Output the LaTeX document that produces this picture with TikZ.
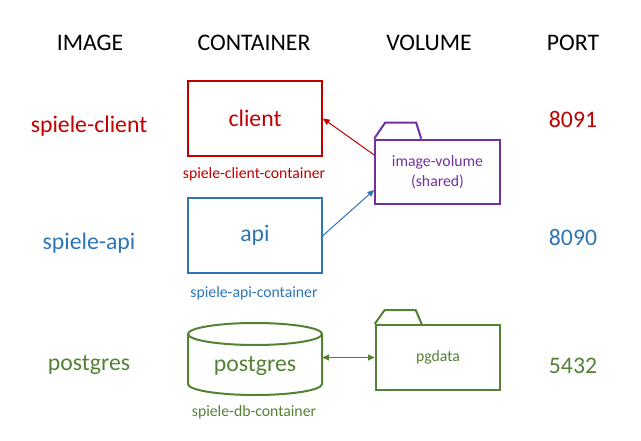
\documentclass[tikz,border=0pt]{standalone}
\usepackage{fontspec}
\setmainfont{Carlito}
\usetikzlibrary{arrows.meta}

\definecolor{clientred}{RGB}{192,0,0}
\definecolor{apiblue}{RGB}{46,117,182}
\definecolor{dbgreen}{RGB}{84,130,53}
\definecolor{volpurple}{RGB}{112,48,160}

\newcommand{\bigtxt}{\fontsize{17.8}{21}\selectfont}
\newcommand{\smalltxt}{\fontsize{11.8}{15}\selectfont}

\begin{document}
\begin{tikzpicture}[x=0.75pt,y=0.75pt,yscale=-1,xscale=1,
  big/.style={font=\bigtxt, inner sep=0.75pt},
  small/.style={font=\smalltxt, inner sep=0.75pt, align=center},
  cbox/.style={draw, line width=1.5pt, minimum width=100.5pt, minimum height=56.25pt, font=\bigtxt},
  folder/.style={draw, line width=1.5pt, minimum width=93.5pt, minimum height=48.5pt, font=\smalltxt, align=center},
  thin arrow/.style={line width=0.75pt, -{Triangle[length=5pt,width=4.5pt]}}]
\path[use as bounding box] (0,0) rectangle (641,441);

% Headers
\node[big] (hImage) at (90,43) {IMAGE};
\node[big] (hContainer) at (254,43) {CONTAINER};
\node[big] (hVolume) at (429,43) {VOLUME};
\node[big] (hPort) at (573,43) {PORT};

% Images
\node[big, clientred] (imgClient) at (89,126) {spiele-client};
\node[big, apiblue] (imgApi) at (89,243) {spiele-api};
\node[big, dbgreen] (imgDb) at (89,365) {postgres};

% Containers
\node[cbox, clientred] (client) at (255,118.5) {client};
\node[small, clientred] (clientLbl) at (254,174) {spiele-client-container};
\node[cbox, apiblue] (api) at (255,235.5) {api};
\node[small, apiblue] (apiLbl) at (254,293) {spiele-api-container};

%Shape: Cylinder
\draw[dbgreen, line width=1.5pt] (188,334) -- (188,384) arc[start angle=180, end angle=360, x radius=67, y radius=-11] -- (322,334);
\draw[dbgreen, line width=1.5pt] (255,334) ellipse [x radius=67, y radius=11];
\node[dbgreen, minimum width=100.5pt, minimum height=40pt, font=\bigtxt, inner sep=0pt] (postgres) at (255,366) {postgres};
\node[small, dbgreen] (dbLbl) at (254,412) {spiele-db-container};

% Volumes
\node[folder, volpurple] (imgvol) at (437.5,172) {image-volume\\(shared)};
\draw[volpurple, line width=1.5pt] (imgvol.north west) -- ++(11,-16) -- ++(31,0) -- ++(5,16);
\node[folder, dbgreen, minimum height=48.75pt] (pgdata) at (438,357.5) {pgdata};
\draw[dbgreen, line width=1.5pt] (pgdata.north west) -- ++(10,-14) -- ++(31,0) -- ++(6,14);

% Ports
\node[big, clientred] (portClient) at (573,119) {8091};
\node[big, apiblue] (portApi) at (573,237) {8090};
\node[big, dbgreen] (portDb) at (573,366) {5432};

% Connectors
\draw[thin arrow, clientred] ([yshift=-12.75pt]imgvol.west) -- (client.east);
\draw[thin arrow, apiblue] (api.east) -- ([yshift=13.5pt]imgvol.west);
\draw[thin arrow, dbgreen, {Triangle[length=5pt,width=4.5pt]}-{Triangle[length=5pt,width=4.5pt]}] (postgres.east |- pgdata.west) -- (pgdata.west);

\end{tikzpicture}
\end{document}
